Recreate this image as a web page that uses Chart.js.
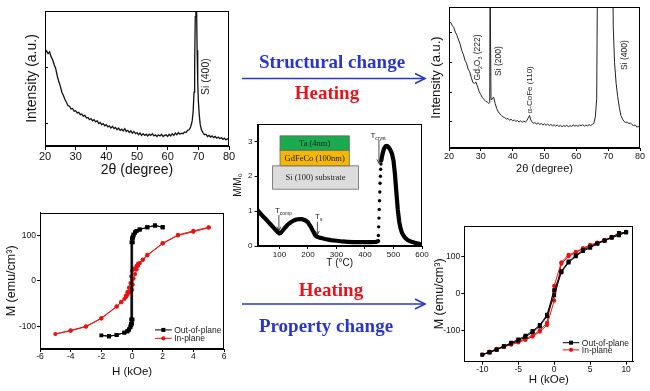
<!DOCTYPE html>
<html><head><meta charset="utf-8">
<script src="https://cdn.jsdelivr.net/npm/chart.js@4.4.1/dist/chart.umd.min.js"></script>
<style>
html,body{margin:0;padding:0;background:#fff;}
#wrap{position:relative;width:650px;height:391px;overflow:hidden;background:#fff;}
canvas{position:absolute;}
.lbl{position:absolute;font-family:"Liberation Serif","Times New Roman",serif;font-weight:bold;font-size:19px;white-space:nowrap;transform:translate(-50%,-50%);line-height:1;}
.blue{color:#2b37c4;} .red{color:#e3141d;}
svg{position:absolute;left:0;top:0;pointer-events:none;}
</style></head><body>
<div id="wrap">
<canvas id="cTL" width="240" height="185" style="left:0px;top:0px"></canvas>
<canvas id="cTR" width="225" height="185" style="left:425px;top:0px"></canvas>
<canvas id="cC" width="202" height="160" style="left:228px;top:112px"></canvas>
<canvas id="cBL" width="235" height="190" style="left:0px;top:200px"></canvas>
<canvas id="cBR" width="215" height="176" style="left:430px;top:215px"></canvas>
<svg width="650" height="391">
  <line x1="242" y1="78.5" x2="424.5" y2="78.5" stroke="#2b37c4" stroke-width="1.6"/>
  <polyline points="415,73.5 425,78.5 415,83.5" fill="none" stroke="#2b37c4" stroke-width="1.6"/>
  <line x1="242" y1="304" x2="424.5" y2="304" stroke="#2b37c4" stroke-width="1.6"/>
  <polyline points="415,299 425,304 415,309" fill="none" stroke="#2b37c4" stroke-width="1.6"/>
</svg>
<div class="lbl blue" style="left:332px;top:61px">Structural change</div>
<div class="lbl red" style="left:327px;top:92px">Heating</div>
<div class="lbl red" style="left:331px;top:289px">Heating</div>
<div class="lbl blue" style="left:326px;top:325px">Property change</div>
</div>
<script>
// ---------- DATA ----------
// Top-left XRD (as-deposited)
const tlTheta = [20,20.5,21,21.5,22,22.5,23,23.5,24,24.5,25,25.5,26,26.5,27,27.5,28,28.5,29,29.5,30,30.5,31,31.5,32,32.5,33,33.5,34,34.5,35,35.5,36,36.5,37,37.5,38,38.5,39,39.5,40,40.5,41,41.5,42,42.5,43,43.5,44,44.5,45,45.5,46,46.5,47,47.5,48,48.5,49,49.5,50,50.5,51,51.5,52,52.5,53,53.5,54,54.5,55,55.5,56,56.5,57,57.5,58,58.5,59,59.5,60,60.5,61,61.5,62,62.5,63,63.5,64,64.5,65,65.5,66,66.5,67,67.5,68,68.3,68.6,68.8,69,69.2,69.4,69.6,69.8,70,70.3,70.6,71,71.5,72,72.5,73,73.5,74,74.5,75,75.5,76,76.5,77,77.5,78,78.5,79,79.5,80];
const tlIntensity = [1.25,1.29,1.24,1.27,1.18,1.13,1.04,0.97,0.84,0.74,0.66,0.55,0.49,0.42,0.37,0.31,0.30,0.25,0.26,0.21,0.22,0.18,0.19,0.15,0.16,0.12,0.14,0.09,0.10,0.06,0.08,0.04,0.06,0.02,0.04,-0.01,0.01,-0.03,-0.01,-0.05,-0.03,-0.07,-0.05,-0.09,-0.06,-0.10,-0.08,-0.12,-0.09,-0.13,-0.11,-0.14,-0.10,-0.15,-0.13,-0.17,-0.14,-0.18,-0.15,-0.19,-0.17,-0.21,-0.18,-0.22,-0.19,-0.22,-0.20,-0.23,-0.20,-0.22,-0.19,-0.23,-0.21,-0.24,-0.21,-0.23,-0.20,-0.24,-0.22,-0.21,-0.24,-0.20,-0.23,-0.19,-0.22,-0.18,-0.21,-0.17,-0.20,-0.18,-0.19,-0.16,-0.17,-0.13,-0.12,-0.07,0.04,0.20,0.55,1.05,1.9,3.0,2.2,1.3,0.75,0.40,0.15,-0.02,-0.12,-0.17,-0.21,-0.20,-0.24,-0.22,-0.25,-0.23,-0.26,-0.24,-0.27,-0.25,-0.28,-0.26,-0.29,-0.27,-0.30,-0.28,-0.30];
const tlXTicks = [20,30,40,50,60,70,80];
const tlYTicks = [0,1,2];

// Top-right XRD (after heating)
const trTheta = [20,20.5,21,21.5,22,22.5,23,23.5,24,24.5,25,25.5,26,26.5,27,27.5,28,28.5,29,29.5,30,30.5,31,31.5,32,32.5,32.8,32.9,33.1,33.2,33.6,34,34.5,35,35.5,36,36.5,37,37.5,38,38.5,39,39.5,40,40.5,41,41.5,42,42.5,43,43.5,44,44.5,45,45.3,45.6,46,46.5,47,47.5,48,48.5,49,49.5,50,50.5,51,51.5,52,52.5,53,53.5,54,54.5,55,55.5,56,56.5,57,57.5,58,58.5,59,59.5,60,60.5,61,61.5,62,62.5,63,63.5,64,64.5,65,65.5,66,66.4,66.7,71.4,71.6,72,72.5,73,73.5,74,74.5,75,75.5,76,76.5,77,77.5,78,78.5,79,79.5,80];
const trIntensity = [3.30,3.36,3.25,3.18,3.02,2.92,2.76,2.62,2.40,2.28,2.08,1.98,1.78,1.69,1.50,1.33,1.30,1.34,1.18,1.02,0.92,0.82,0.76,0.70,0.68,0.62,0.66,5.0,5.0,0.75,0.78,0.84,0.62,0.45,0.34,0.27,0.22,0.17,0.15,0.10,0.12,0.06,0.09,0.04,0.07,0.02,0.05,0.00,0.04,-0.01,0.03,0.00,0.05,0.16,0.22,0.10,0.01,-0.04,-0.02,-0.07,-0.03,-0.08,-0.05,-0.10,-0.06,-0.11,-0.07,-0.12,-0.08,-0.13,-0.09,-0.14,-0.10,-0.15,-0.11,-0.16,-0.12,-0.15,-0.11,-0.16,-0.12,-0.15,-0.10,-0.14,-0.11,-0.15,-0.10,-0.13,-0.09,-0.14,-0.10,-0.13,-0.09,-0.12,-0.08,-0.05,0.20,0.8,6.0,6.0,3.2,2.0,1.3,0.85,0.50,0.22,0.10,0.02,-0.02,0.00,-0.06,-0.03,-0.09,-0.12,-0.10,-0.17,-0.15,-0.21];
const trXTicks = [20,30,40,50,60,70,80];
const trYTicks = [0,1,2,3];

// Center: M/M0 vs T
const cT1 = [23,30,40,50,60,70,80,90,95,100,105,110,120,130,140,150,160,170,180,190,200,210,215,220,225,230,240,250,260,280,300,320,340,360,380,400,420,440,446];
const cM1 = [1.03,0.96,0.87,0.79,0.70,0.61,0.52,0.43,0.39,0.36,0.38,0.43,0.53,0.62,0.68,0.73,0.76,0.77,0.77,0.74,0.68,0.55,0.47,0.39,0.31,0.27,0.24,0.22,0.20,0.17,0.15,0.13,0.12,0.11,0.11,0.11,0.11,0.12,0.14];
const cT2 = [447,448,449,450,451,452,453,454,455,456];
const cM2 = [0.30,0.55,0.80,1.05,1.30,1.55,1.80,2.00,2.20,2.35];
const cT3 = [457,460,464,468,472,476,480,485,490,495,500,505,510,515,520,525,530,540,550,560,575,590,600];
const cM3 = [2.45,2.58,2.72,2.81,2.86,2.87,2.86,2.81,2.74,2.64,2.45,2.07,1.55,1.05,0.70,0.50,0.37,0.24,0.17,0.13,0.09,0.06,0.04];
const cXTicks = [100,200,300,400,500,600];
const cYTicks = [0,1,2,3];

// Bottom-left hysteresis (as-deposited)
const blOopH = [2,1.5,1,0.5,0.3,0.2,0.1,0.05,0,-0.03,-0.05,-0.07,-0.1,-0.2,-0.3,-0.5,-1,-1.5,-2,-1.5,-1,-0.5,-0.3,-0.2,-0.1,-0.05,0,0.03,0.05,0.07,0.1,0.2,0.3,0.5,1,1.5,2];
const blOopM = [118,122,118,113,110,107,102,97,94,85,-85,-95,-100,-107,-111,-114,-119,-122,-120,-122,-119,-114,-111,-107,-102,-97,-94,-85,85,95,100,106,110,113,118,122,118];
const blIpH = [5,4,3,2,1,0.7,0.4,0.3,0.2,0.1,0,-0.05,-0.1,-0.2,-0.3,-0.4,-0.5,-0.7,-1,-2,-3,-4,-5,-4,-3,-2,-1,-0.7,-0.4,-0.3,-0.2,-0.1,0,0.05,0.1,0.2,0.3,0.4,0.5,0.7,1,2,3,4,5];
const blIpM = [118,110,101,83,57,47,38,33,28,25,22,10,-5,-15,-25,-33,-40,-47,-57,-83,-101,-110,-117,-109,-100,-82,-56,-46,-36,-31,-26,-23,-20,-8,5,15,25,33,39,46,56,82,100,108,117];
const blXTicks = [-6,-4,-2,0,2,4,6];
const blYTicks = [-100,0,100];

// Bottom-right hysteresis (after heating)
const brH = [10,9,8,7,6,5,4,3,2,1,0,-1,-2,-3,-4,-5,-6,-7,-8,-9,-10,-9,-8,-7,-6,-5,-4,-3,-2,-1,0,1,2,3,4,5,6,7,8,9,10];
const brOopM = [165,163,152,143,135,126,117,102,86,60,8,-58,-86,-102,-115,-125,-134,-143,-152,-159,-166,-160,-153,-144,-136,-128,-118,-105,-89,-62,-5,57,83,100,114,123,134,142,150,157,165];
const brIpM = [166,159,152,144,137,131,122,112,104,84,20,-80,-100,-114,-123,-130,-137,-143,-150,-158,-166,-160,-152,-145,-139,-133,-126,-117,-104,-86,-20,80,100,110,120,129,136,143,151,158,166];
const brXTicks = [-10,-5,0,5,10];
const brYTicks = [-100,0,100];

const legendLabels = ['Out-of-plane','In-plane'];
// ---------- END DATA ----------

const SANS = '"Liberation Sans", Arial, Helvetica, sans-serif';
const SERIF = '"Liberation Serif", "Times New Roman", serif';
const RED = '#e81212';

function pts(xs, ys){ return xs.map((x,i)=>({x:x, y:ys[i]})); }

function drawRich(ctx, parts, x, y, size, fam, align){
  const sub = size*0.62;
  let w = 0;
  parts.forEach(p=>{ ctx.font = (p[1]?sub:size)+'px '+fam; w += ctx.measureText(p[0]).width; });
  let cx = align==='center' ? x-w/2 : (align==='right' ? x-w : x);
  ctx.textAlign='left'; ctx.textBaseline='middle';
  parts.forEach(p=>{
    const s = p[1]?sub:size;
    ctx.font = s+'px '+fam;
    const dy = p[1]===1 ? size*0.32 : (p[1]===2 ? -size*0.35 : 0);
    ctx.fillText(p[0], cx, y+dy);
    cx += ctx.measureText(p[0]).width;
  });
}

const decor = {
  id:'decor',
  afterDatasetsDraw(chart, args, o){
    const {ctx, chartArea:a, scales:{x,y}} = chart;
    ctx.save();
    (o.boxes||[]).forEach(b=>{
      const x0=x.getPixelForValue(b.x0), x1=x.getPixelForValue(b.x1);
      const y0=y.getPixelForValue(b.y0), y1=y.getPixelForValue(b.y1);
      ctx.fillStyle=b.fill; ctx.fillRect(x0,y1,x1-x0,y0-y1);
      ctx.strokeStyle='#666'; ctx.lineWidth=0.8; ctx.strokeRect(x0,y1,x1-x0,y0-y1);
      ctx.fillStyle='#222'; ctx.font=b.size+'px '+SERIF; ctx.textAlign='center'; ctx.textBaseline='middle';
      ctx.fillText(b.text,(x0+x1)/2,(y0+y1)/2+0.5);
    });
    (o.texts||[]).forEach(t=>{
      ctx.save();
      ctx.translate(x.getPixelForValue(t.x), y.getPixelForValue(t.y));
      if (t.rot) ctx.rotate(t.rot*Math.PI/180);
      ctx.fillStyle = t.color||'#222';
      drawRich(ctx, t.parts, 0, 0, t.size, t.fam||SANS, t.align||'left');
      ctx.restore();
    });
    (o.arrows||[]).forEach(r=>{
      const px=x.getPixelForValue(r.x), p0=y.getPixelForValue(r.y0), p1=y.getPixelForValue(r.y1);
      ctx.strokeStyle='#222'; ctx.lineWidth=0.8;
      ctx.beginPath(); ctx.moveTo(px,p0); ctx.lineTo(px,p1); ctx.stroke();
      ctx.beginPath(); ctx.moveTo(px-2,p1-4); ctx.lineTo(px,p1); ctx.lineTo(px+2,p1-4); ctx.stroke();
    });
    (o.legend||[]).forEach(l=>{
      const x0=x.getPixelForValue(l.x0), x1=x.getPixelForValue(l.x1), py=y.getPixelForValue(l.y);
      ctx.strokeStyle=l.color; ctx.fillStyle=l.color; ctx.lineWidth=1;
      ctx.beginPath(); ctx.moveTo(x0,py); ctx.lineTo(x1,py); ctx.stroke();
      const mx=(x0+x1)/2;
      if (l.style==='rect') ctx.fillRect(mx-2,py-2,4,4);
      else { ctx.beginPath(); ctx.arc(mx,py,2.1,0,Math.PI*2); ctx.fill(); }
      ctx.fillStyle='#222'; ctx.font=l.size+'px '+SANS; ctx.textAlign='left'; ctx.textBaseline='middle';
      ctx.fillText(l.label, x1+2.5, py+0.5);
    });
    if (o.frame){
      ctx.strokeStyle='#000'; ctx.lineWidth=1;
      ctx.strokeRect(Math.round(a.left)+0.5, Math.round(a.top)+0.5, Math.round(a.right)-Math.round(a.left)-1, Math.round(a.bottom)-Math.round(a.top)-1);
    }
    ctx.restore();
  }
};

function axis(o){
  return {
    type:'linear', position:o.pos, min:o.min, max:o.max,
    afterFit: s => { if (o.pos==='left') s.width=o.size; else s.height=o.size; },
    afterBuildTicks: s => { s.ticks = o.ticks.map(v=>({value:v})); },
    ticks:{ display:o.labels!==false, font:{family:SANS,size:o.fs}, color:'#111', padding:o.pad||0, maxRotation:0, autoSkip:false,
            callback: v => String(v) },
    grid:{ display:true, drawOnChartArea:false, drawTicks:true, tickLength:(o.tl===undefined?3:o.tl), color:'#000', lineWidth:1 },
    border:{ display:true, color:'#000', width:1 },
    title:{ display:true, text:o.title, font:{family:SANS,size:o.tfs}, color:'#111', padding:o.tpad }
  };
}

function mk(id, cfg){
  return new Chart(document.getElementById(id), {
    type:'scatter',
    data:{datasets:cfg.datasets},
    options:{
      responsive:false, animation:false, devicePixelRatio:1, events:[],
      layout:{padding:cfg.pad},
      plugins:{legend:{display:false}, tooltip:{enabled:false}, decor:cfg.decor},
      scales:{ x:axis(cfg.x), y:axis(cfg.y) }
    },
    plugins:[decor]
  });
}

function lineDs(xs, ys, color, w){
  return {data:pts(xs,ys), showLine:true, borderColor:color, backgroundColor:color, borderWidth:w, pointRadius:0, tension:0};
}

// Top-left
mk('cTL', {
  pad:{top:11,right:11,left:0,bottom:0},
  datasets:[lineDs(tlTheta, tlIntensity, '#111', 1.3)],
  x:{pos:'bottom', min:20, max:80, ticks:tlXTicks, size:39, fs:11, tl:4, pad:0, title:'2θ (degree)', tfs:14, tpad:{top:0,bottom:6.6}},
  y:{pos:'left', min:-0.41, max:2, ticks:tlYTicks, labels:false, size:45, fs:11, tl:-3, title:'Intensity (a.u.)', tfs:14, tpad:{top:23.6,bottom:0}},
  decor:{frame:true, texts:[{x:72.4, y:0.5, rot:-90, size:10.5, parts:[['Si (400)',0]]}]}
});

// Top-right
mk('cTR', {
  pad:{top:7,right:10,left:0,bottom:0},
  datasets:[lineDs(trTheta, trIntensity, '#222', 1.0)],
  x:{pos:'bottom', min:20, max:80, ticks:trXTicks, size:37, fs:9, tl:3, pad:0, title:'2θ (degree)', tfs:11, tpad:{top:0,bottom:9.4}},
  y:{pos:'left', min:-0.875, max:3.87, ticks:trYTicks, labels:false, size:24, fs:9, tl:-3, title:'Intensity (a.u.)', tfs:13, tpad:{top:3.9,bottom:0}},
  decor:{frame:true, texts:[
    {x:29.1, y:1.40, rot:-90, size:8.5, parts:[['Gd',0],['2',1],['O',0],['3',1],[' (222)',0]]},
    {x:35.7, y:1.55, rot:-90, size:8.5, parts:[['Si (200)',0]]},
    {x:45.5, y:0.29, rot:-90, size:8, parts:[['α-CoFe (110)',0]]},
    {x:75.2, y:1.75, rot:-90, size:8.5, parts:[['Si (400)',0]]}
  ]}
});

// Center
mk('cC', {
  pad:{top:12,right:8,left:0,bottom:0},
  datasets:[
    {...lineDs(cT1, cM1, '#000', 4.2), borderCapStyle:'round', borderJoinStyle:'round'},
    {data:pts(cT2,cM2), showLine:false, pointRadius:1.7, pointBorderWidth:0, backgroundColor:'#000', borderColor:'#000'},
    {...lineDs(cT3, cM3, '#000', 4.2), borderCapStyle:'round', borderJoinStyle:'round'}
  ],
  x:{pos:'bottom', min:23, max:600, ticks:cXTicks, size:26, fs:8, tl:3, pad:1, title:'T (°C)', tfs:10, tpad:{top:0,bottom:3}},
  y:{pos:'left', min:0, max:3.5, ticks:cYTicks, size:29.5, fs:8, tl:3, pad:2, title:'M/M₀', tfs:10, tpad:{top:4,bottom:0}},
  decor:{frame:true,
    boxes:[
      {x0:76, x1:377, y0:1.63, y1:2.30, fill:'#dcdcdc', text:'Si (100) substrate', size:8.5},
      {x0:102, x1:345, y0:2.30, y1:2.75, fill:'#f6b700', text:'GdFeCo (100nm)', size:8.5},
      {x0:102, x1:345, y0:2.75, y1:3.16, fill:'#1aab4e', text:'Ta (4nm)', size:8.5}
    ],
    texts:[
      {x:84, y:1.01, size:8, parts:[['T',0],['comp',1]]},
      {x:225, y:0.83, size:8, parts:[['T',0],['s',1]]},
      {x:419, y:3.16, size:8, parts:[['T',0],['cryst',1]]}
    ],
    arrows:[{x:98,y0:0.89,y1:0.44},{x:233,y0:0.70,y1:0.32},{x:449,y0:3.04,y1:2.37}]
  }
});

// Bottom-left
mk('cBL', {
  pad:{top:12.7,right:11,left:0,bottom:0},
  datasets:[
    {data:pts(blOopH,blOopM), showLine:true, borderColor:'#000', backgroundColor:'#000', borderWidth:1, pointRadius:2.8, pointStyle:'rect', pointBorderWidth:0, tension:0},
    {data:pts(blIpH,blIpM), showLine:true, borderColor:RED, backgroundColor:RED, borderWidth:1, pointRadius:2.1, pointStyle:'circle', pointBorderWidth:0, tension:0}
  ],
  x:{pos:'bottom', min:-6, max:6, ticks:blXTicks, size:41, fs:8.5, tl:3, pad:0, title:'H (kOe)', tfs:11.5, tpad:{top:0,bottom:11.7}},
  y:{pos:'left', min:-150, max:150, ticks:blYTicks, size:40, fs:8.5, tl:3, pad:1, title:'M (emu/cm³)', tfs:12.5, tpad:{top:3.9,bottom:0}},
  decor:{frame:true, legend:[
    {x0:1.5, x1:2.59, y:-108, label:legendLabels[0], color:'#000', style:'rect', size:8.5},
    {x0:1.5, x1:2.59, y:-126.5, label:legendLabels[1], color:RED, style:'circle', size:8.5}
  ]}
});

// Bottom-right
mk('cBR', {
  pad:{top:11,right:11.7,left:0,bottom:0},
  datasets:[
    {data:pts(brH,brOopM), showLine:true, borderColor:'#000', backgroundColor:'#000', borderWidth:1, pointRadius:2.8, pointStyle:'rect', pointBorderWidth:0, tension:0},
    {data:pts(brH,brIpM), showLine:true, borderColor:RED, backgroundColor:RED, borderWidth:1, pointRadius:2.1, pointStyle:'circle', pointBorderWidth:0, tension:0}
  ],
  x:{pos:'bottom', min:-12.5, max:11, ticks:brXTicks, size:29.3, fs:8.5, tl:3, pad:0, title:'H (kOe)', tfs:11.5, tpad:{top:0,bottom:4.4}},
  y:{pos:'left', min:-185, max:182, ticks:brYTicks, size:34.3, fs:8.5, tl:3, pad:1, title:'M (emu/cm³)', tfs:12.5, tpad:{top:2.2,bottom:0}},
  decor:{frame:true, legend:[
    {x0:1.19, x1:3.49, y:-133.6, label:legendLabels[0], color:'#000', style:'rect', size:8.5},
    {x0:1.19, x1:3.49, y:-153, label:legendLabels[1], color:RED, style:'circle', size:8.5}
  ]}
});
</script>
</body></html>
